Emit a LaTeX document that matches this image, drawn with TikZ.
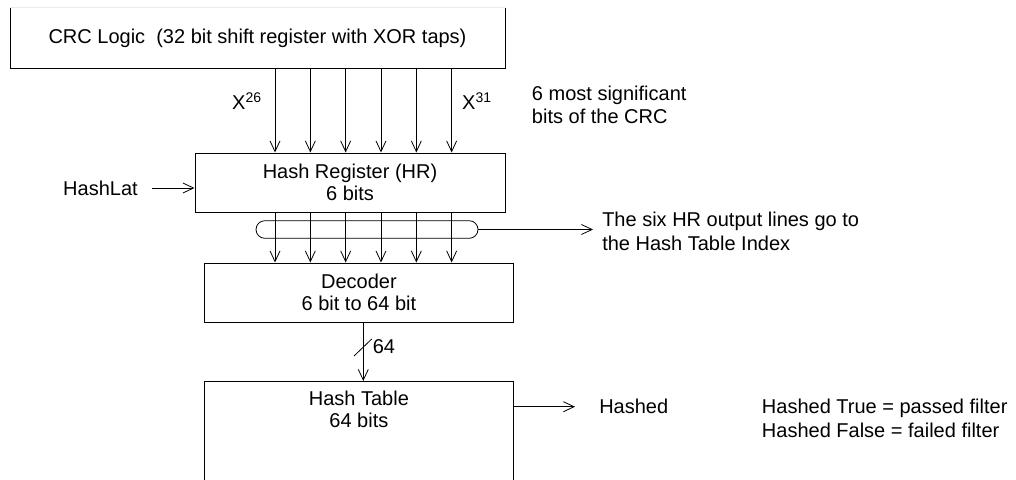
\documentclass[tikz,border=0pt]{standalone}
\usepackage{fontspec}
\setmainfont{Liberation Sans}
\usetikzlibrary{arrows.meta,calc}
\tikzset{
	blk/.style={draw, line width=0.75pt, inner sep=0pt, align=center, font=\fontsize{15}{16.5}\selectfont},
	txt/.style={inner sep=0pt, align=left, font=\fontsize{15}{17.5}\selectfont},
	sig/.style={line width=0.6pt, -{Straight Barb[length=8pt,width=7.5pt]}},
}

\begin{document}
\begin{tikzpicture}[x=0.75pt,y=-0.75pt]
			%%%%% START %%%%%
			\useasboundingbox (0,0) rectangle (1016,479);
			\clip (0,0) rectangle (1016,479);
			
			\node[blk, draw=none, minimum width=370.5pt, minimum height=45pt] (crc) at (257.5,38) {CRC Logic\ \ (32 bit shift register with XOR taps)};
			\draw[line width=0.75pt] (crc.north west) -- (crc.south west) -- (crc.south east) -- (crc.north east);
			\draw[line width=0.75pt, black!8] (crc.north west) -- (crc.north east);
			
			\node[blk, minimum width=232.5pt, minimum height=44.25pt] (hr) at (350,182.5) {Hash Register (HR)\\6 bits};
			\node[blk, minimum width=231.75pt, minimum height=44.25pt] (dec) at (358.9,292.5) {Decoder\\6 bit to 64 bit};
			\node[blk, anchor=north, minimum width=231.75pt, minimum height=112.5pt] (htab) at (358.9,381) {};
			\node[blk, draw=none] (htabtxt) at (358.9,409) {Hash Table\\64 bits};
			
			% six tap lines
			\foreach \i in {0,...,5}
				\coordinate (t\i) at (275+35.33*\i,0);
			\foreach \i in {0,...,5}
				\draw[sig] (crc.south -| t\i) -- (hr.north -| t\i);
			
			\node[txt] (x26) at (247,101) {X\textsuperscript{26}};
			\node[txt] (x31) at (477,101) {X\textsuperscript{31}};
			\node[txt, anchor=west] (msb) at (531.7,105) {6 most significant\\bits of the CRC};
			
			\node[txt, anchor=east] (hashlat) at (138,188) {HashLat};
			\draw[sig] ([xshift=10.5pt]hashlat.east) -- (hashlat.east -| hr.west);
			
			% bus to the decoder
			\node[draw, line width=0.6pt, rounded corners=6.6pt, minimum width=166.5pt, minimum height=13.2pt] (bus) at (367,229.5) {};
			\foreach \i in {0,...,5}
				\draw[sig] (hr.south -| t\i) -- (dec.north -| t\i);
			\node[txt, anchor=west] (busnote) at (602,231.5) {The six HR output lines go to\\the Hash Table Index};
			\draw[line width=0.6pt, -{Straight Barb[length=8pt,width=7.5pt]}] (bus.east) -- ([xshift=-6.75pt]busnote.west |- bus.east);
			
			\coordinate (w) at (363.3,0);
			\draw[sig] (dec.south -| w) -- (htab.north -| w);
			\draw[line width=0.6pt] (354,356) -- (371.7,339);
			\node[txt, anchor=west] (n64) at (372.5,347) {64};
			
			\node[txt, anchor=west] (hashed) at (599,406.7) {Hashed};
			\draw[sig] (htab.east |- hashed) -- ([xshift=-18pt]hashed.west);
			\node[txt, anchor=west] (res) at (761.7,418.3) {Hashed True = passed filter\\Hashed False = failed filter};
			
			%%%%% END %%%%%
		\end{tikzpicture}
\end{document}
